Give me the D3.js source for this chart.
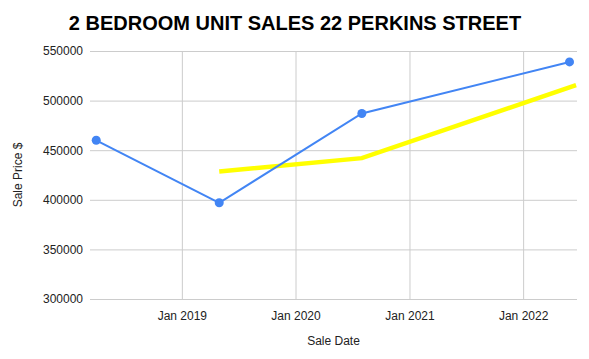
<!DOCTYPE html>
<html lang="en">
<head>
<meta charset="UTF-8">
<title>2 Bedroom Unit Sales</title>
<script src="https://d3js.org/d3.v7.min.js"></script>
<style>
  body { margin: 0; background: #fff; font-family: "Liberation Sans", Arial, sans-serif; }
  .grid line { stroke: #cccccc; stroke-width: 1px; }
  .tick text { fill: #222; font-size: 12px; }
</style>
</head>
<body>
<div id="chart"></div>
<script>
// Sales (blue series)
const saleDates = ["2018-04-01", "2019-05-01", "2020-08-01", "2022-05-30"];
const salePrices = [460000, 397000, 487000, 539000];

// Trend (yellow series)
const trendDates = ["2019-05-01", "2020-08-01", "2022-06-20"];
const trendPrices = [428500, 442000, 515500];

const yTicks = [300000, 350000, 400000, 450000, 500000, 550000];
const xTicks = ["2019-01-01", "2020-01-01", "2021-01-01", "2022-01-01"];
const xDomain = ["2018-03-12", "2022-06-23"];

const W = 589, H = 359;
const margin = { top: 51, right: 12, bottom: 60, left: 90 };
const width = W - margin.left - margin.right;
const height = H - margin.top - margin.bottom;

const parse = d3.timeParse("%Y-%m-%d");

const svg = d3.select("#chart").append("svg")
  .attr("width", W).attr("height", H);

const g = svg.append("g").attr("transform", `translate(${margin.left},${margin.top})`);

const x = d3.scaleTime().domain(xDomain.map(parse)).range([0, width]);
const y = d3.scaleLinear().domain([300000, 550000]).range([height, 0]);

// horizontal grid + y labels
g.append("g").attr("class", "grid")
  .call(d3.axisLeft(y).tickValues(yTicks).tickSize(-width).tickPadding(7).tickFormat(d3.format("d")))
  .call(a => a.select(".domain").remove())
  .call(a => a.selectAll(".tick text").attr("font-family", "Liberation Sans, Arial, sans-serif"));

// vertical grid
g.append("g").attr("class", "grid")
  .call(d3.axisBottom(x).tickValues(xTicks.map(parse)).tickSize(height).tickFormat(""))
  .call(a => a.select(".domain").remove());

// x labels
g.append("g").attr("class", "grid")
  .attr("transform", `translate(0,${height})`)
  .call(d3.axisBottom(x).tickValues(xTicks.map(parse)).tickSize(0).tickPadding(12).tickFormat(d3.timeFormat("Jan %Y")))
  .call(a => a.select(".domain").remove())
  .call(a => a.selectAll(".tick text").attr("font-family", "Liberation Sans, Arial, sans-serif"));

const trend = trendDates.map((d, i) => ({ date: parse(d), value: trendPrices[i] }));
const sales = saleDates.map((d, i) => ({ date: parse(d), value: salePrices[i] }));

const line = d3.line().x(d => x(d.date)).y(d => y(d.value));

g.append("path").datum(trend)
  .attr("fill", "none").attr("stroke", "#ffff00").attr("stroke-width", 4.5)
  .attr("d", line);

g.append("path").datum(sales)
  .attr("fill", "none").attr("stroke", "#4285f4").attr("stroke-width", 2)
  .attr("d", line);

g.selectAll("circle").data(sales).enter().append("circle")
  .attr("cx", d => x(d.date)).attr("cy", d => y(d.value))
  .attr("r", 4.5).attr("fill", "#4285f4");

// title
svg.append("text")
  .attr("x", 295).attr("y", 30)
  .attr("text-anchor", "middle")
  .attr("font-size", "20px").attr("font-weight", "bold")
  .attr("fill", "#000")
  .text("2 BEDROOM UNIT SALES 22 PERKINS STREET");

// axis titles
svg.append("text")
  .attr("x", margin.left + width / 2).attr("y", 345)
  .attr("text-anchor", "middle").attr("font-size", "12px").attr("fill", "#222")
  .text("Sale Date");

svg.append("text")
  .attr("transform", `translate(22,${margin.top + height / 2}) rotate(-90)`)
  .attr("text-anchor", "middle").attr("font-size", "12px").attr("fill", "#222")
  .text("Sale Price $");
</script>
</body>
</html>
